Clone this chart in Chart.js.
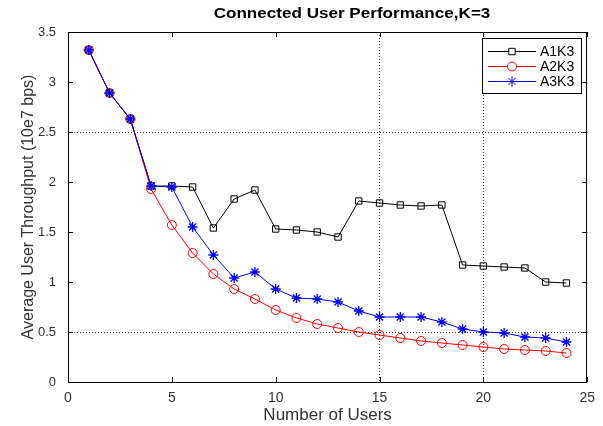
<!DOCTYPE html>
<html>
<head>
<meta charset="utf-8">
<script src="https://cdn.jsdelivr.net/npm/chart.js@4"></script>
<style>
  html, body { margin: 0; padding: 0; background: #fff; }
  #wrap { width: 603px; height: 426px; }
</style>
</head>
<body>
<div id="wrap"><canvas id="chart"></canvas></div>
<script>
var users = [1, 2, 3, 4, 5, 6, 7, 8, 9, 10, 11, 12, 13, 14, 15, 16, 17, 18, 19, 20, 21, 22, 23, 24];
var a1k3 = [3.32, 2.89, 2.63, 1.96, 1.96, 1.95, 1.54, 1.83, 1.92, 1.53, 1.52, 1.50, 1.45, 1.81, 1.79, 1.77, 1.76, 1.77, 1.17, 1.16, 1.15, 1.14, 1.00, 0.99];
var a2k3 = [3.32, 2.89, 2.63, 1.93, 1.57, 1.29, 1.08, 0.93, 0.83, 0.72, 0.64, 0.58, 0.54, 0.50, 0.47, 0.44, 0.41, 0.39, 0.37, 0.35, 0.33, 0.32, 0.31, 0.29];
var a3k3 = [3.32, 2.89, 2.63, 1.96, 1.95, 1.55, 1.27, 1.04, 1.10, 0.93, 0.84, 0.83, 0.80, 0.71, 0.65, 0.65, 0.65, 0.60, 0.53, 0.50, 0.49, 0.45, 0.44, 0.40];
var xTicks = [0, 5, 10, 15, 20, 25];
var yTicks = [0, 0.5, 1, 1.5, 2, 2.5, 3, 3.5];
var xGridAt = [15, 20];
var yGridAt = [0.5, 2.5];

function pts(values) {
    return values.map(function(v, i) { return { x: users[i], y: v }; });
}

var fontFam = '"Liberation Sans", Arial, sans-serif';

// MATLAB style frame, inward ticks, title and legend box
var matlabFrame = {
    id: 'matlabFrame',
    afterDraw: function(chart) {
        var c = chart.ctx, a = chart.chartArea;
        var xs = chart.scales.x, ys = chart.scales.y;
        c.save();
        c.strokeStyle = '#000';
        c.lineWidth = 1;
        c.strokeRect(Math.round(a.left) + 0.5, Math.round(a.top) + 0.5,
            Math.round(a.right - a.left) - 1, Math.round(a.bottom - a.top));
        c.beginPath();
        xTicks.forEach(function(t) {
            var px = Math.round(xs.getPixelForValue(t)) + 0.5;
            c.moveTo(px, a.bottom); c.lineTo(px, a.bottom - 5);
            c.moveTo(px, a.top); c.lineTo(px, a.top + 5);
        });
        yTicks.forEach(function(t) {
            var py = Math.round(ys.getPixelForValue(t)) + 0.5;
            c.moveTo(a.left, py); c.lineTo(a.left + 5, py);
            c.moveTo(a.right, py); c.lineTo(a.right - 5, py);
        });
        c.stroke();

        // title (reference text is stretched horizontally)
        c.save();
        c.fillStyle = '#000';
        c.font = 'bold 14px ' + fontFam;
        c.textAlign = 'center';
        c.textBaseline = 'middle';
        c.translate(352, 14);
        c.scale(1.22, 1);
        c.fillText('Connected User Performance,K=3', 0, 0);
        c.restore();

        // legend
        var lx = 482, ly = 38, lw = 99, lh = 55;
        c.fillStyle = '#fff';
        c.fillRect(lx, ly, lw, lh);
        c.strokeStyle = '#000';
        c.strokeRect(lx + 0.5, ly + 0.5, lw, lh);
        chart.data.datasets.forEach(function(ds, i) {
            var y = ly + 13 + i * 15;
            c.strokeStyle = ds.borderColor;
            c.lineWidth = 1;
            c.beginPath();
            c.moveTo(lx + 6, y + 0.5); c.lineTo(lx + 54, y + 0.5);
            c.stroke();
            c.fillStyle = '#fff';
            Chart.helpers.drawPoint(c, {
                pointStyle: ds.pointStyle, radius: ds.pointRadius,
                rotation: 0, borderWidth: 1
            }, lx + 30, y + 0.5);
            c.fillStyle = '#000';
            c.font = '14px ' + fontFam;
            c.textAlign = 'left';
            c.textBaseline = 'middle';
            c.fillText(ds.label, lx + 58, y + 1);
        });
        c.restore();
    }
};

new Chart(document.getElementById('chart').getContext('2d'), {
    type: 'line',
    data: {
        datasets: [{
            label: 'A1K3',
            data: pts(a1k3),
            borderColor: '#000000',
            backgroundColor: 'rgba(0,0,0,0)',
            pointStyle: 'rect',
            pointRadius: 4.5,
            pointBorderWidth: 1,
            borderWidth: 1,
            tension: 0,
            order: 3
        }, {
            label: 'A2K3',
            data: pts(a2k3),
            borderColor: '#ff0000',
            backgroundColor: 'rgba(0,0,0,0)',
            pointStyle: 'circle',
            pointRadius: 4.5,
            pointBorderWidth: 1,
            borderWidth: 1,
            tension: 0,
            order: 2
        }, {
            label: 'A3K3',
            data: pts(a3k3),
            borderColor: '#0000ff',
            backgroundColor: 'rgba(0,0,0,0)',
            pointStyle: 'star',
            pointRadius: 5,
            pointBorderWidth: 1.3,
            borderWidth: 1,
            tension: 0,
            order: 1
        }]
    },
    options: {
        responsive: true,
        maintainAspectRatio: false,
        animation: false,
        layout: { padding: { top: 32, right: 5, left: 19, bottom: 0 } },
        plugins: {
            legend: { display: false },
            title: { display: false },
            tooltip: { enabled: false }
        },
        scales: {
            x: {
                type: 'linear',
                min: 0,
                max: 25,
                afterBuildTicks: function(s) { s.ticks = xTicks.map(function(v) { return { value: v }; }); },
                afterFit: function(s) { s.height = 44; },
                border: { display: false, dash: [1, 2] },
                grid: {
                    drawTicks: false,
                    lineWidth: 1,
                    color: function(ctx) {
                        return xGridAt.indexOf(ctx.tick.value) >= 0 ? '#333' : 'rgba(0,0,0,0)';
                    }
                },
                ticks: {
                    padding: 8,
                    color: '#333',
                    font: { family: fontFam, size: 14 },
                    callback: function(v) { return String(v); }
                },
                title: {
                    display: true,
                    text: 'Number of Users',
                    color: '#333',
                    padding: { top: 1, bottom: 0 },
                    font: { family: fontFam, size: 17 }
                }
            },
            y: {
                min: 0,
                max: 3.5,
                afterBuildTicks: function(s) { s.ticks = yTicks.map(function(v) { return { value: v }; }); },
                afterFit: function(s) { s.width = 49; },
                border: { display: false, dash: [1, 2] },
                grid: {
                    drawTicks: false,
                    lineWidth: 1,
                    color: function(ctx) {
                        return yGridAt.indexOf(ctx.tick.value) >= 0 ? '#333' : 'rgba(0,0,0,0)';
                    }
                },
                ticks: {
                    padding: 12,
                    color: '#333',
                    font: { family: fontFam, size: 13 },
                    callback: function(v) { return String(v); }
                },
                title: {
                    display: true,
                    text: 'Average User Throughput (10e7 bps)',
                    color: '#333',
                    padding: { top: 0, bottom: 2 },
                    font: { family: fontFam, size: 16 }
                }
            }
        }
    },
    plugins: [matlabFrame]
});
</script>
</body>
</html>
